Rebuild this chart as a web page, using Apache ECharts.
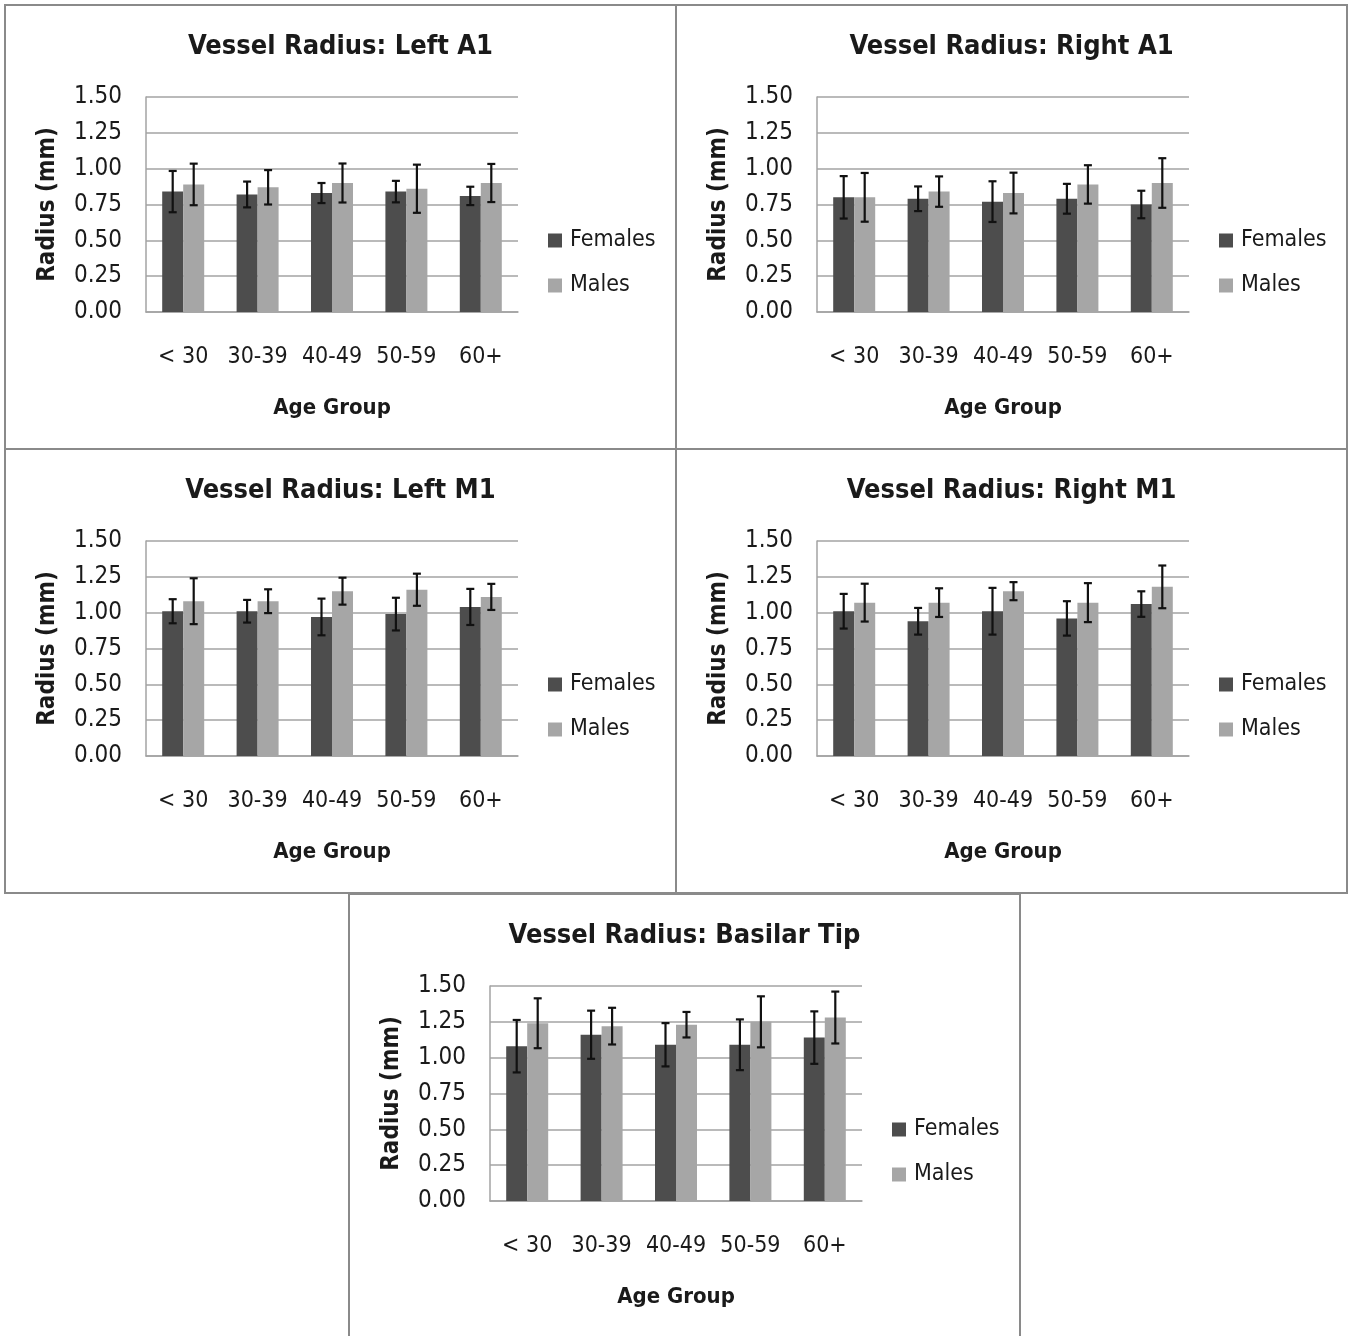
<!DOCTYPE html>
<html>
<head>
<meta charset="utf-8">
<script src="https://cdn.jsdelivr.net/npm/echarts@6/dist/echarts.min.js"></script>
<style>
  html, body { margin: 0; padding: 0; background: #fff; }
  body { width: 1351px; height: 1336px; position: relative; overflow: hidden; }
  .panel { position: absolute; width: 673px; height: 446px; box-sizing: border-box; border: 2px solid #8a8a8a; background: #fff; }
</style>
</head>
<body>
<div class="panel" id="p1" style="left:4px; top:4px;"></div>
<div class="panel" id="p2" style="left:675px; top:4px;"></div>
<div class="panel" id="p3" style="left:4px; top:448px;"></div>
<div class="panel" id="p4" style="left:675px; top:448px;"></div>
<div class="panel" id="p5" style="left:348px; top:893px; height:446px;"></div>
<script>
// ---------- DATA ----------
const categories = ['< 30', '30-39', '40-49', '50-59', '60+'];
const seriesNames = ['Females', 'Males'];
const yTicks = [0, 0.25, 0.5, 0.75, 1.0, 1.25, 1.5];

const titles = [
  'Vessel Radius: Left A1',
  'Vessel Radius: Right A1',
  'Vessel Radius: Left M1',
  'Vessel Radius: Right M1',
  'Vessel Radius: Basilar Tip'
];

// Left A1
const leftA1Females   = [0.84, 0.82, 0.83, 0.84, 0.81];
const leftA1FemalesSD = [0.144, 0.090, 0.070, 0.075, 0.064];
const leftA1Males     = [0.89, 0.87, 0.90, 0.86, 0.90];
const leftA1MalesSD   = [0.145, 0.120, 0.136, 0.168, 0.133];

// Right A1
const rightA1Females   = [0.80, 0.79, 0.77, 0.79, 0.75];
const rightA1FemalesSD = [0.148, 0.086, 0.142, 0.104, 0.096];
const rightA1Males     = [0.80, 0.84, 0.83, 0.89, 0.90];
const rightA1MalesSD   = [0.170, 0.106, 0.142, 0.134, 0.173];

// Left M1
const leftM1Females   = [1.01, 1.01, 0.97, 0.99, 1.04];
const leftM1FemalesSD = [0.084, 0.079, 0.128, 0.114, 0.126];
const leftM1Males     = [1.08, 1.08, 1.15, 1.16, 1.11];
const leftM1MalesSD   = [0.160, 0.083, 0.094, 0.112, 0.091];

// Right M1
const rightM1Females   = [1.01, 0.94, 1.01, 0.96, 1.06];
const rightM1FemalesSD = [0.121, 0.093, 0.163, 0.120, 0.089];
const rightM1Males     = [1.07, 1.07, 1.15, 1.07, 1.18];
const rightM1MalesSD   = [0.132, 0.100, 0.063, 0.136, 0.149];

// Basilar Tip
const basilarFemales   = [1.08, 1.16, 1.09, 1.09, 1.14];
const basilarFemalesSD = [0.183, 0.168, 0.151, 0.177, 0.183];
const basilarMales     = [1.24, 1.22, 1.23, 1.25, 1.28];
const basilarMalesSD   = [0.174, 0.128, 0.089, 0.178, 0.181];

const panels = [
  { id: 'p1', title: titles[0], f: leftA1Females,  fsd: leftA1FemalesSD,  m: leftA1Males,  msd: leftA1MalesSD },
  { id: 'p2', title: titles[1], f: rightA1Females, fsd: rightA1FemalesSD, m: rightA1Males, msd: rightA1MalesSD },
  { id: 'p3', title: titles[2], f: leftM1Females,  fsd: leftM1FemalesSD,  m: leftM1Males,  msd: leftM1MalesSD },
  { id: 'p4', title: titles[3], f: rightM1Females, fsd: rightM1FemalesSD, m: rightM1Males, msd: rightM1MalesSD },
  { id: 'p5', title: titles[4], f: basilarFemales, fsd: basilarFemalesSD, m: basilarMales, msd: basilarMalesSD }
];

// ---------- STYLE ----------
const FONT = "'DejaVu Sans Condensed', 'DejaVu Sans', sans-serif";
const BAR_W = 21;
const GRID_COLOR = '#a3a3a3';
const TEXT_COLOR = '#1a1a1a';
const COLORS = ['#4d4d4d', '#a6a6a6'];

function errorSeries(means, sds, sign) {
  return {
    type: 'custom',
    silent: true,
    z: 5,
    data: means.map((v, i) => [i, v - sds[i], v + sds[i]]),
    renderItem: function (params, api) {
      const lo = api.coord([api.value(0), api.value(1)]);
      const hi = api.coord([api.value(0), api.value(2)]);
      const x = lo[0] + sign * BAR_W / 2;
      const cap = 4;
      const st = { stroke: '#111', lineWidth: 2.2 };
      return {
        type: 'group',
        children: [
          { type: 'line', shape: { x1: x, y1: lo[1], x2: x, y2: hi[1] }, style: st },
          { type: 'line', shape: { x1: x - cap, y1: lo[1], x2: x + cap, y2: lo[1] }, style: st },
          { type: 'line', shape: { x1: x - cap, y1: hi[1], x2: x + cap, y2: hi[1] }, style: st }
        ]
      };
    }
  };
}

panels.forEach(p => {
  const chart = echarts.init(document.getElementById(p.id), null, { renderer: 'canvas' });
  chart.setOption({
    animation: false,
    textStyle: { fontFamily: FONT },
    title: {
      text: p.title,
      left: 'center',
      top: 22,
      textStyle: { fontFamily: FONT, fontSize: 27, fontWeight: 'bold', color: TEXT_COLOR }
    },
    legend: {
      orient: 'vertical',
      left: 537,
      top: 218,
      icon: 'rect',
      itemWidth: 14,
      itemHeight: 14,
      itemGap: 22,
      data: seriesNames,
      textStyle: { fontFamily: FONT, fontSize: 23, color: TEXT_COLOR, padding: [0, 0, 0, 3] }
    },
    grid: { left: 140, top: 91, width: 372, height: 215, containLabel: false },
    xAxis: {
      type: 'category',
      data: categories,
      axisTick: { show: false },
      axisLine: { lineStyle: { color: GRID_COLOR, width: 1.5 } },
      axisLabel: { interval: 0, hideOverlap: false, fontFamily: FONT, fontSize: 23, color: TEXT_COLOR, margin: 34 },
      name: 'Age Group',
      nameLocation: 'middle',
      nameGap: 85,
      nameTextStyle: { fontFamily: FONT, fontSize: 22, fontWeight: 'bold', color: TEXT_COLOR }
    },
    yAxis: {
      type: 'value',
      min: yTicks[0],
      max: yTicks[yTicks.length - 1],
      interval: 0.25,
      axisLine: { show: true, lineStyle: { color: GRID_COLOR, width: 1.5 } },
      axisTick: { show: false },
      splitLine: { lineStyle: { color: GRID_COLOR, width: 1.5 } },
      axisLabel: { fontFamily: FONT, fontSize: 24, color: TEXT_COLOR, margin: 24, formatter: v => v.toFixed(2) },
      name: 'Radius (mm)',
      nameLocation: 'middle',
      nameGap: 86,
      nameTextStyle: { fontFamily: FONT, fontSize: 24, fontWeight: 'bold', color: TEXT_COLOR }
    },
    series: [
      { name: seriesNames[0], type: 'bar', data: p.f, barWidth: BAR_W, barGap: '0%', itemStyle: { color: COLORS[0] } },
      { name: seriesNames[1], type: 'bar', data: p.m, barWidth: BAR_W, barGap: '0%', itemStyle: { color: COLORS[1] } },
      errorSeries(p.f, p.fsd, -1),
      errorSeries(p.m, p.msd, 1)
    ]
  });
});
</script>
</body>
</html>
